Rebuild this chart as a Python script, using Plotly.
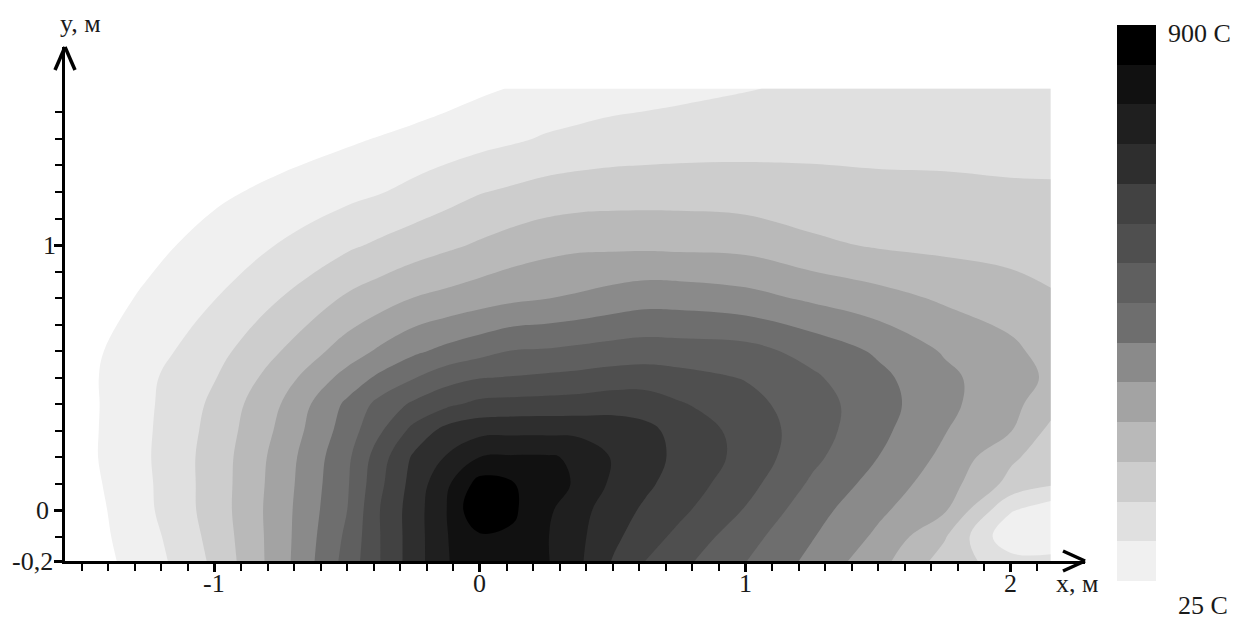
import plotly.graph_objects as go

W, H = 1240, 619

# ---------------- data ----------------
# grid nodes (metres)
x_m = [-1.56, -1.25, -1.0, -0.75, -0.5, -0.375, -0.25, -0.125, 0.0, 0.125, 0.25,
       0.375, 0.5, 0.625, 0.75, 1.0, 1.25, 1.5, 1.75, 2.0, 2.15]
y_m = [-0.2, -0.1, 0.0, 0.1, 0.2, 0.3, 0.4, 0.5, 0.6, 0.8, 1.0, 1.2, 1.4, 1.59]

# band level estimated at every node, one row per y (1 = lightest band at 25 C,
# 14 = black core at 900 C, values below 1 are the white zone)
lvl_y_m020 = [0.2, 1.48, 3.19, 5.59, 8.38, 10.0, 11.5, 12.94, 13.6, 13.5, 13.1, 12.14, 10.92, 9.92, 9.26, 8.0, 6.72, 5.33, 3.54, 2.5, 2.4]
lvl_y_m010 = [0.2, 1.65, 3.33, 5.57, 8.21, 10.0, 11.5, 12.96, 13.85, 13.85, 13.07, 12.2, 11.24, 10.44, 9.75, 8.39, 7.07, 5.81, 4.1, 1.2, 1.2]
lvl_y_000 = [0.15, 1.84, 3.44, 5.57, 8.0, 10.03, 11.5, 13.0, 15.0, 14.15, 13.2, 12.33, 11.47, 10.83, 10.24, 8.93, 7.4, 6.2, 5.12, 2.1, 1.4]
lvl_y_010 = [0.3, 1.88, 3.44, 5.5, 7.89, 9.81, 11.37, 12.81, 14.4, 14.05, 13.4, 12.85, 11.8, 11.18, 10.59, 9.37, 7.85, 6.6, 5.46, 3.7, 3.15]
lvl_y_020 = [0.4, 1.93, 3.43, 5.42, 7.78, 9.58, 11.15, 12.08, 13.0, 13.1, 13.1, 12.85, 11.91, 11.34, 10.79, 9.68, 8.25, 7.0, 5.77, 4.17, 3.5]
lvl_y_030 = [0.4, 1.9, 3.33, 5.21, 7.47, 8.89, 10.3, 11.35, 11.7, 11.75, 11.75, 11.7, 11.55, 11.25, 10.68, 9.63, 8.47, 7.27, 6.05, 5.04, 3.75]
lvl_y_040 = [0.4, 1.86, 3.2, 5.0, 7.2, 8.33, 9.17, 9.79, 10.25, 10.33, 10.375, 10.44, 10.6, 10.55, 10.1, 9.34, 8.44, 7.42, 6.25, 5.29, 4.4]
lvl_y_050 = [0.45, 1.82, 2.95, 4.53, 6.37, 7.22, 7.94, 8.6, 8.95, 9.06, 9.18, 9.29, 9.44, 9.5, 9.33, 8.94, 8.16, 7.25, 6.24, 5.36, 4.85]
lvl_y_060 = [0.5, 1.58, 2.64, 4.0, 5.47, 6.18, 6.8, 7.27, 7.66, 8.04, 8.1, 8.25, 8.4, 8.5, 8.45, 8.35, 7.66, 6.85, 5.9, 5.23, 4.6]
lvl_y_080 = [0.2, 1.17, 1.97, 3.0, 4.14, 4.56, 5.02, 5.28, 5.55, 5.8, 5.97, 6.15, 6.4, 6.6, 6.58, 6.33, 5.83, 5.37, 4.85, 4.45, 4.1]
lvl_y_100 = [0.0, 0.71, 1.39, 2.06, 2.82, 3.17, 3.49, 3.81, 4.12, 4.43, 4.67, 4.8, 4.8, 4.8, 4.76, 4.69, 4.2, 3.9, 3.76, 3.63, 3.58]
lvl_y_120 = [-0.3, 0.33, 0.8, 1.27, 1.72, 1.95, 2.27, 2.6, 2.95, 3.17, 3.38, 3.5, 3.56, 3.58, 3.58, 3.48, 3.34, 3.23, 3.18, 3.1, 3.08]
lvl_y_140 = [-0.8, -0.3, 0.1, 0.5, 0.86, 1.06, 1.27, 1.47, 1.67, 1.87, 2.1, 2.25, 2.375, 2.44, 2.51, 2.63, 2.7, 2.7, 2.72, 2.73, 2.75]
lvl_y_159 = [-1.2, -0.9, -0.6, -0.3, 0.0, 0.15, 0.35, 0.6, 0.85, 1.05, 1.25, 1.4, 1.55, 1.65, 1.75, 1.95, 2.15, 2.3, 2.4, 2.45, 2.5]

# colour scale (temperature limits and band colours of the legend bar)
t_min, t_max = 25.0, 900.0
band_colors = ['#f0f0f0', '#e0e0e0', '#cdcdcd', '#b9b9b9', '#a3a3a3', '#8a8a8a',
               '#6e6e6e', '#5f5f5f', '#4f4f4f', '#424242', '#2e2e2e', '#1f1f1f',
               '#111111', '#000000']
label_top, label_bottom = '900 C', '25 C'

x_tick_vals = [-1, 0, 1, 2]
x_tick_text = ['-1', '0', '1', '2']
y_tick_vals = [-0.2, 0, 1]
y_tick_text = ['-0,2', '0', '1']

# ---------------- build ----------------
n_bands = len(band_colors)
step = (t_max - t_min) / n_bands

rows = [lvl_y_m020, lvl_y_m010, lvl_y_000, lvl_y_010, lvl_y_020, lvl_y_030, lvl_y_040,
        lvl_y_050, lvl_y_060, lvl_y_080, lvl_y_100, lvl_y_120, lvl_y_140, lvl_y_159]
temp = [[t_min + (v - 1.0) * step for v in r] for r in rows]

# contour colour scale: background (below 25 C) white, then the bands
cscale = [[0.0, '#ffffff']] + [[k / n_bands, band_colors[k - 1]] for k in range(1, n_bands + 1)]

fig = go.Figure()
fig.add_trace(go.Contour(
    x=x_m, y=y_m, z=temp,
    autocontour=False,
    contours=dict(start=t_min, end=t_max - step, size=step, coloring='fill', showlines=False),
    colorscale=cscale, showscale=False,
    line=dict(width=0, smoothing=1.1),
    hoverinfo='skip',
    xaxis='x', yaxis='y',
))

# legend bar
bar_vals = [[t_min + (k + 0.5) * step] for k in range(n_bands)]
bar_scale = [[k / (n_bands - 1), band_colors[k]] for k in range(n_bands)]
fig.add_trace(go.Heatmap(
    z=bar_vals, x=[0], y=list(range(1, n_bands + 1)),
    colorscale=bar_scale, zmin=bar_vals[0][0], zmax=bar_vals[-1][0],
    showscale=False, hoverinfo='skip', xaxis='x2', yaxis='y2',
))

# ---------------- layout (pixel geometry) ----------------
ax_left, ax_right = 65, 1085      # x-axis pixel extent
ax_top, ax_bottom = 47, 561       # y-axis pixel extent
x_range = [-1.563, 2.279]
y_range = [-0.192, 1.747]

font_family = 'Liberation Serif, Times New Roman, serif'
txt_color = '#1a1a1a'
fs = 26
tfont = dict(family=font_family, size=fs, color=txt_color)

minor_x = [round(i * 0.1, 1) for i in range(-15, 22)]
minor_y = [round(i * 0.1, 1) for i in range(-1, 16)]

common = dict(showline=True, linewidth=3, linecolor='black', showgrid=False, zeroline=False,
              ticks='outside', ticklen=8, tickwidth=3, tickcolor='black', automargin=False,
              showticklabels=False, fixedrange=True)

fig.update_layout(
    width=W, height=H, autosize=False, margin=dict(l=0, r=0, t=0, b=0, pad=0),
    paper_bgcolor='white', plot_bgcolor='rgba(0,0,0,0)', showlegend=False,
    xaxis=dict(domain=[ax_left / W, ax_right / W], range=x_range, anchor='y',
               tickmode='array', tickvals=x_tick_vals,
               minor=dict(tickmode='array', tickvals=minor_x, ticks='outside', ticklen=7,
                          tickwidth=1.5, tickcolor='black'),
               **common),
    yaxis=dict(domain=[1 - ax_bottom / H, 1 - ax_top / H], range=y_range, anchor='x',
               tickmode='array', tickvals=[y_range[0]] + y_tick_vals[1:],
               minor=dict(tickmode='array', tickvals=minor_y, ticks='outside', ticklen=7,
                          tickwidth=1.5, tickcolor='black'),
               **common),
    xaxis2=dict(domain=[1117 / W, 1156 / W], range=[-0.5, 0.5], visible=False, anchor='y2',
                fixedrange=True, automargin=False),
    yaxis2=dict(domain=[1 - 581 / H, 1 - 25 / H], range=[0.5, n_bands + 0.5], visible=False,
                anchor='x2', fixedrange=True, automargin=False),
)


def P(px, py):
    return px / W, 1 - py / H


# arrow heads (open chevrons) at the ends of both axes
shapes = []
for (tx, ty), arms in [((ax_right, ax_bottom), [(ax_right - 22, ax_bottom - 10), (ax_right - 22, ax_bottom + 10)]),
                       ((ax_left, ax_top), [(ax_left - 10, ax_top + 23), (ax_left + 10, ax_top + 23)])]:
    for (bx, by) in arms:
        x0, y0 = P(bx, by)
        x1, y1 = P(tx, ty)
        shapes.append(dict(type='line', xref='paper', yref='paper', x0=x0, y0=y0, x1=x1, y1=y1,
                           line=dict(color='black', width=3.5)))
fig.update_layout(shapes=shapes)

# tick labels placed on the axis scales
for v, t in zip(x_tick_vals, x_tick_text):
    fig.add_annotation(text=t, x=v, xref='x', y=P(0, 583)[1], yref='paper', showarrow=False,
                       xanchor='center', yanchor='middle', font=tfont)
y_label_right = {'-0,2': 55, '0': 51, '1': 58}
for v, t in zip(y_tick_vals, y_tick_text):
    yv = max(v, y_range[0])
    fig.add_annotation(text=t, x=P(y_label_right[t], 0)[0], xref='paper', y=yv, yref='y',
                       showarrow=False, xanchor='right', yanchor='middle', font=tfont)

annots = [
    ('y, м', 58, 24, 'left'),
    ('x, м', 1054, 583, 'left'),
    (label_top, 1166, 34, 'left'),
    (label_bottom, 1176, 605, 'left'),
]
for text, px, py, anc in annots:
    x, y = P(px, py)
    fig.add_annotation(text=text, x=x, y=y, xref='paper', yref='paper', showarrow=False,
                       xanchor=anc, yanchor='middle', font=tfont)

fig.write_html('out.html', config={'responsive': False})
